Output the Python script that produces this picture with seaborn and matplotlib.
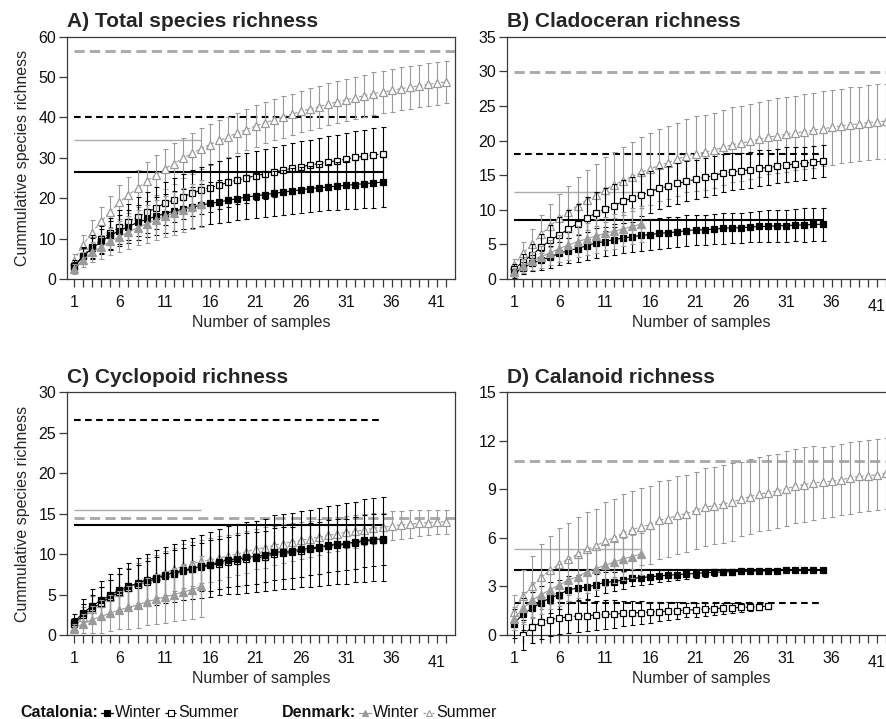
import numpy as np
import matplotlib
matplotlib.use("Agg")
import matplotlib.pyplot as plt
import matplotlib.transforms as mtransforms
from matplotlib.lines import Line2D
from matplotlib.offsetbox import HPacker, TextArea, DrawingArea, AnchoredOffsetbox
import seaborn as sns

nan = np.nan

# ---------------------------------------------------------------- data
panel_titles = ["A) Total species richness", "B) Cladoceran richness",
                "C) Cyclopoid richness", "D) Calanoid richness"]
y_limits = [(0, 60), (0, 35), (0, 30), (0, 15)]
y_steps = [10, 5, 5, 3]
x_label = "Number of samples"
y_label = "Cummulative species richness"
x_tick_labels = [1, 6, 11, 16, 21, 26, 31, 36, 41]
n_tick_marks = 42

# sample extent of the estimated-richness lines
cat_extent = 35
dk_winter_extent = 15
dk_summer_extent = 43

# A) total species richness
a_cat_winter = [3.0, 5.6, 7.6, 9.3, 10.8, 12.0, 13.0, 14.0, 14.8, 15.5, 16.2, 16.8, 17.3, 17.8, 18.3,
                18.7, 19.1, 19.5, 19.9, 20.3, 20.6, 20.9, 21.2, 21.5, 21.8, 22.1, 22.4, 22.6, 22.8,
                23.0, 23.2, 23.4, 23.6, 23.8, 24.0]
a_cat_winter_sd = [1.3, 2.0, 2.6, 3.1, 3.5, 3.8, 4.1, 4.3, 4.5, 4.7, 4.8, 4.9, 5.0, 5.1, 5.2, 5.2, 5.3,
                   5.3, 5.4, 5.4, 5.5, 5.5, 5.5, 5.6, 5.6, 5.7, 5.7, 5.8, 5.8, 5.9, 5.9, 6.0, 6.0, 6.1, 6.1]
a_cat_summer = [3.2, 5.8, 8.0, 9.8, 11.3, 12.8, 14.1, 15.4, 16.5, 17.6, 18.7, 19.6, 20.4, 21.2, 22.0,
                22.6, 23.3, 23.9, 24.5, 25.0, 25.6, 26.0, 26.5, 26.9, 27.4, 27.8, 28.2, 28.6, 29.0,
                29.3, 29.7, 30.1, 30.4, 30.7, 31.0]
a_cat_summer_sd = [1.4, 2.2, 2.9, 3.4, 3.8, 4.2, 4.5, 4.8, 5.0, 5.2, 5.4, 5.5, 5.6, 5.7, 5.8, 5.9, 5.9,
                   6.0, 6.0, 6.1, 6.1, 6.2, 6.2, 6.2, 6.3, 6.3, 6.3, 6.4, 6.4, 6.4, 6.5, 6.5, 6.5, 6.6, 6.6]
a_dk_winter = [2.5, 4.8, 6.6, 8.0, 9.3, 10.5, 11.6, 12.7, 13.7, 14.6, 15.5, 16.3, 17.1, 17.9, 18.6]
a_dk_winter_sd = [1.2, 1.9, 2.5, 3.0, 3.4, 3.8, 4.1, 4.4, 4.7, 4.9, 5.1, 5.3, 5.5, 5.6, 5.8]
a_dk_summer = [4.5, 8.5, 11.5, 14.3, 16.7, 19.0, 20.8, 22.5, 24.2, 25.8, 27.3, 28.6, 29.9, 31.1, 32.3,
               33.3, 34.3, 35.2, 36.2, 37.0, 37.9, 38.7, 39.4, 40.1, 40.8, 41.5, 42.1, 42.7, 43.3,
               43.9, 44.4, 44.9, 45.4, 45.9, 46.3, 46.7, 47.1, 47.5, 47.8, 48.2, 48.5, 48.8]
a_dk_summer_sd = [1.6, 2.5, 3.1, 3.6, 3.9, 4.2, 4.4, 4.6, 4.8, 4.9, 5.0, 5.0, 5.0, 5.0, 5.0, 5.0, 5.0,
                  5.0, 5.0, 5.0, 5.1, 5.1, 5.1, 5.1, 5.1, 5.1, 5.2, 5.2, 5.2, 5.2, 5.2, 5.2, 5.2, 5.3,
                  5.3, 5.3, 5.3, 5.3, 5.3, 5.3, 5.3, 5.3]
a_estimates = {"cat_w": 26.5, "cat_s": 40.0, "dk_w": 34.4, "dk_s": 56.4}

# B) cladoceran richness
b_cat_winter = [0.8, 1.6, 2.3, 2.7, 3.2, 3.7, 4.1, 4.4, 4.8, 5.2, 5.4, 5.7, 5.9, 6.1, 6.3, 6.4, 6.6,
                6.7, 6.8, 7.0, 7.1, 7.1, 7.2, 7.3, 7.4, 7.4, 7.5, 7.6, 7.6, 7.7, 7.7, 7.8, 7.8, 7.9, 7.9]
b_cat_winter_sd = [0.6, 0.9, 1.2, 1.4, 1.6, 1.7, 1.8, 1.9, 2.0, 2.1, 2.1, 2.2, 2.2, 2.2, 2.2, 2.2, 2.2,
                   2.2, 2.2, 2.2, 2.2, 2.2, 2.2, 2.2, 2.2, 2.2, 2.2, 2.2, 2.3, 2.3, 2.3, 2.3, 2.4, 2.4, 2.4]
b_cat_summer = [1.4, 2.5, 3.5, 4.6, 5.6, 6.4, 7.2, 8.0, 8.8, 9.5, 10.1, 10.6, 11.2, 11.7, 12.1, 12.6,
                13.1, 13.4, 13.8, 14.1, 14.4, 14.7, 14.9, 15.3, 15.5, 15.6, 15.8, 16.0, 16.1, 16.3,
                16.5, 16.6, 16.7, 16.9, 17.0]
b_cat_summer_sd = [0.7, 1.1, 1.5, 1.9, 2.2, 2.5, 2.7, 2.9, 3.0, 3.1, 3.1, 3.1, 3.1, 3.1, 3.0, 3.0, 3.0,
                   2.9, 2.9, 2.9, 2.8, 2.8, 2.8, 2.7, 2.7, 2.6, 2.6, 2.6, 2.5, 2.5, 2.5, 2.4, 2.4, 2.3, 2.3]
b_dk_winter = [1.0, 1.9, 2.6, 3.2, 3.8, 4.4, 4.9, 5.4, 5.8, 6.2, 6.6, 6.9, 7.2, 7.6, 7.9]
b_dk_winter_sd = [0.6, 1.0, 1.3, 1.6, 1.8, 2.0, 2.1, 2.2, 2.3, 2.4, 2.4, 2.5, 2.5, 2.6, 2.6]
b_dk_summer = [2.0, 3.7, 5.0, 6.5, 7.7, 8.8, 9.7, 10.6, 11.4, 12.1, 12.9, 13.6, 14.2, 14.8, 15.4, 15.9,
               16.4, 16.8, 17.3, 17.8, 18.1, 18.3, 18.6, 19.0, 19.4, 19.6, 19.9, 20.2, 20.5, 20.7,
               20.9, 21.1, 21.3, 21.5, 21.7, 21.9, 22.1, 22.3, 22.4, 22.6, 22.7, 22.8]
b_dk_summer_sd = [0.9, 1.6, 2.2, 2.7, 3.1, 3.5, 3.8, 4.1, 4.3, 4.5, 4.7, 4.8, 4.9, 5.0, 5.1, 5.2, 5.2,
                  5.3, 5.3, 5.3, 5.4, 5.4, 5.4, 5.4, 5.4, 5.4, 5.4, 5.4, 5.4, 5.4, 5.4, 5.4, 5.4, 5.4,
                  5.4, 5.4, 5.4, 5.4, 5.4, 5.4, 5.4, 5.4]
b_estimates = {"cat_w": 8.5, "cat_s": 18.0, "dk_w": 12.6, "dk_s": 29.9}

# C) cyclopoid richness
c_cat_winter = [1.6, 2.7, 3.6, 4.3, 4.9, 5.6, 6.0, 6.4, 6.8, 7.1, 7.4, 7.7, 8.0, 8.2, 8.5, 8.7, 9.0,
                9.3, 9.4, 9.6, 9.7, 9.9, 10.2, 10.3, 10.4, 10.6, 10.7, 10.9, 11.1, 11.2, 11.3, 11.5,
                11.7, 11.8, 11.9]
c_cat_winter_sd = [1.0, 1.7, 2.1, 2.4, 2.6, 2.7, 2.9, 3.1, 3.2, 3.4, 3.5, 3.6, 3.7, 3.8, 3.9, 4.0, 4.1,
                   4.2, 4.3, 4.4, 4.4, 4.5, 4.6, 4.6, 4.7, 4.7, 4.8, 4.8, 4.9, 4.9, 5.0, 5.0, 5.1, 5.1, 5.2]
c_cat_summer = [1.3, 2.5, 3.3, 4.0, 4.7, 5.3, 5.8, 6.2, 6.6, 6.9, 7.3, 7.6, 7.9, 8.1, 8.4, 8.6, 8.8,
                9.0, 9.2, 9.4, 9.5, 9.7, 10.0, 10.1, 10.2, 10.4, 10.6, 10.8, 11.0, 11.1, 11.2, 11.4,
                11.6, 11.7, 11.8]
c_cat_summer_sd = [0.8, 1.3, 1.7, 1.9, 2.1, 2.3, 2.4, 2.5, 2.6, 2.7, 2.8, 2.9, 2.9, 3.0, 3.0, 3.1, 3.1,
                   3.1, 3.2, 3.2, 3.2, 3.2, 3.2, 3.2, 3.2, 3.2, 3.2, 3.2, 3.2, 3.2, 3.2, 3.2, 3.2, 3.2, 3.2]
c_dk_winter = [0.8, 1.4, 1.9, 2.3, 2.7, 3.1, 3.4, 3.7, 4.1, 4.4, 4.7, 5.0, 5.3, 5.6, 6.0]
c_dk_winter_sd = [0.6, 1.2, 1.7, 2.0, 2.2, 2.4, 2.6, 2.8, 2.9, 3.1, 3.2, 3.3, 3.5, 3.6, 3.8]
c_dk_summer = [0.9, 2.2, 3.2, 4.0, 4.7, 5.3, 5.9, 6.4, 6.9, 7.3, 7.7, 8.1, 8.5, 8.8, 9.1, 9.3, 9.5,
               9.8, 10.0, 10.3, 10.6, 10.8, 11.1, 11.3, 11.5, 11.7, 11.9, 12.1, 12.3, 12.5, 12.7,
               12.8, 13.0, 13.2, 13.3, 13.5, 13.6, 13.7, 13.8, 13.9, 13.95, 14.0]
c_dk_summer_sd = [0.7, 1.2, 1.6, 1.9, 2.1, 2.3, 2.4, 2.5, 2.6, 2.6, 2.7, 2.7, 2.7, 2.7, 2.7, 2.7, 2.7,
                  2.6, 2.6, 2.6, 2.5, 2.5, 2.4, 2.4, 2.3, 2.3, 2.2, 2.2, 2.1, 2.1, 2.0, 2.0, 1.9, 1.9,
                  1.8, 1.8, 1.7, 1.7, 1.6, 1.6, 1.5, 1.5]
c_estimates = {"cat_w": 13.6, "cat_s": 26.6, "dk_w": 15.4, "dk_s": 14.5}

# D) calanoid richness
d_cat_winter = [0.7, 1.3, 1.65, 2.0, 2.3, 2.5, 2.8, 2.9, 2.95, 3.1, 3.25, 3.3, 3.4, 3.5, 3.55, 3.6,
                3.65, 3.7, 3.73, 3.77, 3.8, 3.85, 3.87, 3.9, 3.91, 3.93, 3.95, 3.96, 3.97, 3.98,
                3.99, 4.0, 4.0, 4.0, 4.0]
d_cat_winter_sd = [0.9, 1.0, 1.0, 1.0, 0.95, 0.9, 0.85, 0.8, 0.75, 0.7, 0.65, 0.6, 0.55, 0.5, 0.45,
                   0.42, 0.38, 0.35, 0.32, 0.3, 0.27, 0.25, 0.22, 0.2, 0.18, 0.16, 0.14, 0.12, 0.1,
                   0.08, 0.06, 0.04, 0.02, 0.0, 0.0]
d_cat_summer = [nan, 0.0, 0.5, 0.78, 0.95, 1.05, 1.12, 1.17, 1.2, 1.23, 1.27, 1.3, 1.33, 1.36, 1.39,
                1.42, 1.45, 1.48, 1.51, 1.54, 1.56, 1.6, 1.63, 1.66, 1.68, 1.7, 1.73, 1.75, 1.78]
d_cat_summer_sd = [nan, 0.9, 1.0, 1.0, 1.0, 1.0, 1.0, 1.0, 0.95, 0.9, 0.9, 0.85, 0.8, 0.75, 0.7, 0.65,
                   0.6, 0.55, 0.5, 0.45, 0.42, 0.4, 0.37, 0.34, 0.3, 0.27, 0.24, 0.2, 0.18]
d_dk_winter = [1.0, 1.65, 2.15, 2.5, 2.8, 3.1, 3.4, 3.6, 3.9, 4.1, 4.3, 4.5, 4.7, 4.85, 5.0]
d_dk_winter_sd = [0.7, 1.0, 1.1, 1.2, 1.2, 1.3, 1.3, 1.3, 1.3, 1.3, 1.3, 1.3, 1.3, 1.3, 1.3]
d_dk_summer = [1.4, 2.4, 3.0, 3.6, 4.0, 4.4, 4.7, 5.0, 5.3, 5.5, 5.8, 6.0, 6.3, 6.5, 6.7, 6.8, 7.1,
               7.2, 7.4, 7.5, 7.7, 7.9, 8.0, 8.1, 8.2, 8.4, 8.55, 8.7, 8.8, 8.9, 9.05, 9.2, 9.3,
               9.4, 9.45, 9.5, 9.6, 9.7, 9.8, 9.85, 9.9, 10.0]
d_dk_summer_sd = [1.1, 1.6, 1.9, 2.0, 2.1, 2.2, 2.2, 2.3, 2.3, 2.3, 2.4, 2.4, 2.4, 2.4, 2.4, 2.4, 2.4,
                  2.4, 2.4, 2.4, 2.4, 2.4, 2.4, 2.4, 2.4, 2.3, 2.3, 2.3, 2.3, 2.3, 2.3, 2.3, 2.3, 2.3,
                  2.2, 2.2, 2.2, 2.2, 2.2, 2.2, 2.2, 2.2]
d_estimates = {"cat_w": 4.0, "cat_s": 2.0, "dk_w": 5.3, "dk_s": 10.75}

panels = [
    {"cat_w": (a_cat_winter, a_cat_winter_sd), "cat_s": (a_cat_summer, a_cat_summer_sd),
     "dk_w": (a_dk_winter, a_dk_winter_sd), "dk_s": (a_dk_summer, a_dk_summer_sd), "est": a_estimates},
    {"cat_w": (b_cat_winter, b_cat_winter_sd), "cat_s": (b_cat_summer, b_cat_summer_sd),
     "dk_w": (b_dk_winter, b_dk_winter_sd), "dk_s": (b_dk_summer, b_dk_summer_sd), "est": b_estimates},
    {"cat_w": (c_cat_winter, c_cat_winter_sd), "cat_s": (c_cat_summer, c_cat_summer_sd),
     "dk_w": (c_dk_winter, c_dk_winter_sd), "dk_s": (c_dk_summer, c_dk_summer_sd), "est": c_estimates},
    {"cat_w": (d_cat_winter, d_cat_winter_sd), "cat_s": (d_cat_summer, d_cat_summer_sd),
     "dk_w": (d_dk_winter, d_dk_winter_sd), "dk_s": (d_dk_summer, d_dk_summer_sd), "est": d_estimates},
]

# ---------------------------------------------------------------- styles
GREY = "#9a9a9a"
GREY_LINE = "#ababab"
SPINE = "#3a3a3a"
series_style = {
    "cat_w": dict(color="black", marker="s", mfc="black", mec="black", ls="-", ms=5.0, z=4),
    "cat_s": dict(color="black", marker="s", mfc="white", mec="black", ls=(0, (3, 2)), ms=5.0, z=3),
    "dk_w": dict(color=GREY, marker="^", mfc=GREY, mec=GREY, ls="-", ms=5.5, z=5),
    "dk_s": dict(color=GREY, marker="^", mfc="white", mec=GREY, ls=(0, (3, 2)), ms=5.5, z=2),
}
estimate_style = {
    "cat_w": dict(color="black", lw=1.5, ls="-"),
    "cat_s": dict(color="black", lw=1.5, ls=(0, (3.2, 2.1))),
    "dk_w": dict(color=GREY_LINE, lw=1.0, ls="-"),
    "dk_s": dict(color=GREY_LINE, lw=2.1, ls=(0, (3.5, 1.8))),
}
estimate_extent = {"cat_w": cat_extent, "cat_s": cat_extent,
                   "dk_w": dk_winter_extent, "dk_s": dk_summer_extent}

sns.set_style("ticks")
plt.rcParams["font.family"] = ["Liberation Sans", "DejaVu Sans"]
plt.rcParams["axes.linewidth"] = 0.9

W, H = 887, 719
fig = plt.figure(figsize=(W / 100, H / 100), dpi=100)

ax_w = 388 / W
positions = [
    [67 / W, (H - 279) / H, ax_w, 242.3 / H],
    [507 / W, (H - 279) / H, ax_w, 242.3 / H],
    [67 / W, (H - 635) / H, ax_w, 242.7 / H],
    [507 / W, (H - 635) / H, ax_w, 242.7 / H],
]

# the last labelled tick sits a little lower on panels B-D
low_shift = mtransforms.ScaledTranslation(0, -2.5 / 72, fig.dpi_scale_trans)

for i, (panel, pos) in enumerate(zip(panels, positions)):
    ax = fig.add_axes(pos)
    est = panel["est"]
    # estimated total richness
    for key in ["dk_s", "dk_w", "cat_s", "cat_w"]:
        st = estimate_style[key]
        ax.plot([1, estimate_extent[key]], [est[key], est[key]], color=st["color"],
                lw=st["lw"], linestyle=st["ls"], zorder=1, solid_capstyle="butt")
    # accumulation curves with their error bars
    for key in ["dk_s", "cat_s", "cat_w", "dk_w"]:
        mean, sd = panel[key]
        st = series_style[key]
        x = np.arange(1, len(mean) + 1)
        ax.errorbar(x, mean, yerr=sd, fmt="none", ecolor=st["color"], elinewidth=0.8,
                    capsize=1.8, capthick=0.8, zorder=st["z"], clip_on=False)
        sns.lineplot(x=x, y=mean, ax=ax, color=st["color"], linewidth=0.8,
                     linestyle=st["ls"], marker=st["marker"], markersize=st["ms"],
                     markerfacecolor=st["mfc"], markeredgecolor=st["mec"],
                     markeredgewidth=0.9, errorbar=None, zorder=st["z"] + 0.5,
                     legend=False)

    ax.set_xlim(0.23, 42.98)
    ax.set_ylim(*y_limits[i])
    ax.set_yticks(np.arange(y_limits[i][0], y_limits[i][1] + 0.01, y_steps[i]))
    ax.set_xticks(x_tick_labels, [str(t) for t in x_tick_labels])
    ax.set_xticks(np.arange(1, n_tick_marks + 1), minor=True)
    ax.tick_params(axis="both", which="both", direction="out", length=5.8, width=0.9,
                   color=SPINE, labelsize=11.5, labelcolor="#111111")
    ax.tick_params(axis="x", which="both", pad=6)
    ax.tick_params(axis="y", pad=2)
    if i > 0:
        lab = ax.xaxis.get_major_ticks()[len(x_tick_labels) - 1].label1
        lab.set_transform(lab.get_transform() + low_shift)
    for sp in ax.spines.values():
        sp.set_visible(True)
        sp.set_color(SPINE)
        sp.set_linewidth(0.9)
    ax.set_xlabel(x_label, fontsize=11.5)
    ax.xaxis.set_label_coords(0.5, -0.148)
    if i % 2 == 0:
        ax.set_ylabel(y_label, fontsize=11.5, labelpad=6)
    else:
        ax.set_ylabel("")
    ax.set_title(panel_titles[i], loc="left", fontsize=15, fontweight="bold", pad=7)

# ---------------------------------------------------------------- legend row
def glyph(key):
    st = series_style[key]
    da = DrawingArea(8.5, 8, 0, 0)
    da.add_artist(Line2D([0, 8.5], [4, 4], color=st["color"], lw=0.9,
                         linestyle="-" if st["ls"] == "-" else (0, (2, 1.6))))
    da.add_artist(Line2D([4.25], [4], marker=st["marker"], markersize=st["ms"] - 1,
                         markerfacecolor=st["mfc"], markeredgecolor=st["mec"],
                         markeredgewidth=0.8, linestyle="none"))
    return da

txt = dict(fontsize=11.5, color="#111111")
bold = dict(fontsize=11.5, fontweight="bold", color="#111111")

def entry(key, label):
    return HPacker(children=[glyph(key), TextArea(label, textprops=txt)], sep=1.2,
                   pad=0, align="center")

cat_box = HPacker(children=[TextArea("Catalonia:", textprops=bold),
                            entry("cat_w", "Winter"), entry("cat_s", "Summer")],
                  sep=2.5, pad=0, align="center")
dk_box = HPacker(children=[TextArea("Denmark:", textprops=bold),
                           entry("dk_w", "Winter"), entry("dk_s", "Summer")],
                 sep=2.5, pad=0, align="center")
row = HPacker(children=[cat_box, dk_box], sep=31, pad=0, align="center")
anchored = AnchoredOffsetbox(loc="lower left", child=row, pad=0, borderpad=0, frameon=False,
                             bbox_to_anchor=(20 / W, -0.002), bbox_transform=fig.transFigure)
fig.add_artist(anchored)

fig.savefig("out.png", dpi=100)
